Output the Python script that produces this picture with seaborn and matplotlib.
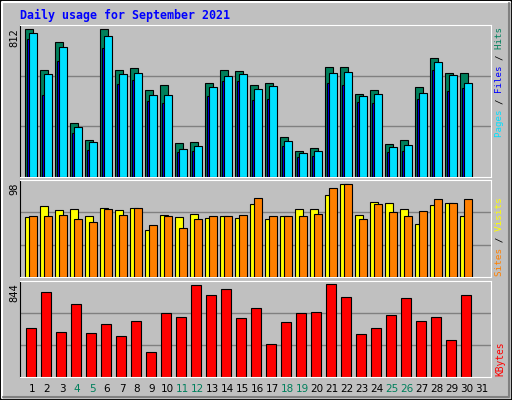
import numpy as np
import matplotlib; matplotlib.use("Agg")
import matplotlib.pyplot as plt
import matplotlib.patches as mpatches
import seaborn as sns

sns.set_style("white")
plt.rcParams["font.family"] = ["DejaVu Sans Mono", "DejaVu Sans"]

days = list(range(1, 32))
weekend = [4, 5, 11, 12, 18, 19, 25, 26]

hits = [812, 585, 740, 297, 203, 812, 585, 596, 476, 507, 186, 192, 518, 585, 579,
        507, 518, 220, 142, 159, 601, 601, 458, 476, 181, 203, 496, 651, 568, 568]
files = [790, 563, 712, 275, 192, 773, 563, 568, 452, 452, 153, 170, 496, 552, 563,
         485, 502, 197, 131, 142, 568, 574, 446, 458, 164, 175, 463, 629, 557, 518]
pages = [756, 452, 635, 242, 148, 707, 513, 530, 419, 408, 137, 142, 446, 524, 524,
         424, 430, 170, 109, 114, 518, 507, 413, 408, 137, 142, 430, 585, 474, 491]
sites = [63, 75, 71, 72, 64, 73, 71, 73, 50, 66, 63, 67, 62, 64, 62,
         77, 61, 65, 72, 72, 87, 98, 66, 79, 78, 72, 56, 76, 78, 65]
visits = [64, 64, 66, 61, 58, 72, 66, 73, 55, 64, 52, 61, 64, 65, 66,
          84, 64, 65, 64, 67, 94, 98, 61, 77, 69, 65, 70, 83, 78, 82]
kbytes = [445, 770, 408, 668, 399, 482, 371, 510, 232, 584, 547, 834, 742, 797, 538,
          630, 297, 501, 584, 593, 844, 732, 389, 445, 565, 723, 510, 547, 334, 751]

BG = "#C0C0C0"
C_HITS, C_FILES, C_PAGES = "#00805C", "#00E0FF", "#0000FF"
C_SITES, C_VISITS, C_KB = "#FFFF00", "#FF8000", "#FF0000"
GREEN = "#00805C"

W, H = 512, 400
fig = plt.figure(figsize=(W / 100, H / 100), dpi=100, facecolor=BG)

# outer frame with bevel
fig.patches.append(mpatches.Rectangle((0, 0), 1, 1, transform=fig.transFigure,
                   fill=False, edgecolor="black", linewidth=2))
fig.add_artist(plt.Line2D([2 / W, 2 / W, 1 - 2 / W], [2 / H, 1 - 2 / H, 1 - 2 / H],
               color="white", linewidth=1.5, transform=fig.transFigure))
fig.add_artist(plt.Line2D([3 / W, 1 - 3 / W, 1 - 3 / W], [3 / H, 3 / H, 1 - 3 / H],
               color="#808080", linewidth=1.5, transform=fig.transFigure))


def make_ax(top_px, bot_px, ymax):
    ax = fig.add_axes([20 / W, 1 - bot_px / H, 471 / W, (bot_px - top_px) / H])
    ax.set_facecolor(BG)
    ax.set_xlim(0, 31.4)
    ax.set_ylim(0, ymax)
    for g in (ymax / 3, 2 * ymax / 3):
        ax.axhline(g, color="#808080", linewidth=1, zorder=0)
    ax.set_xticks([]); ax.set_yticks([])
    for s in ("top", "right", "bottom"):
        ax.spines[s].set_color("white")
    ax.spines["left"].set_color("black")
    return ax


x0 = np.array(days[:30]) - 1
kw = dict(align="edge", edgecolor="black", linewidth=0.8)

ax1 = make_ax(25, 177, 834)
ax1.bar(x0 + 0.35, hits, 0.49, color=C_HITS, zorder=2, **kw)
ax1.bar(x0 + 0.48, pages, 0.13, color=C_PAGES, zorder=3, **kw)
ax1.bar(x0 + 0.62, files, 0.49, color=C_FILES, zorder=4, **kw)

ax2 = make_ax(180, 277, 102.6)
ax2.bar(x0 + 0.35, sites, 0.49, color=C_SITES, zorder=2, **kw)
ax2.bar(x0 + 0.62, visits, 0.49, color=C_VISITS, zorder=3, **kw)

ax3 = make_ax(281, 377, 874)
ax3.bar(x0 + 0.41, kbytes, 0.68, color=C_KB, zorder=2, **kw)

# title
fig.text(20 / W, 1 - 15 / H, "Daily usage for September 2021", color="#0000FF",
         fontsize=8.4, fontweight="bold", va="center", ha="left")

# left max labels
for txt, ytop in (("812", 28), ("98", 182), ("844", 283)):
    fig.text(14 / W, 1 - ytop / H, txt, rotation=90, fontsize=7.5,
             va="top", ha="center", color="black")


# right legends (rotated, multicolour), drawn as one monospace line per piece
def legend(pieces, ybot, step):
    full = "".join(t for t, _ in pieces)
    fs = step / 0.6 * 0.72
    pos = 0
    for txt, col in pieces:
        shown = " " * pos + txt + " " * (len(full) - pos - len(txt))
        fig.text(500 / W, 1 - ybot / H, shown, rotation=90, fontsize=fs,
                 color=col, va="bottom", ha="center")
        pos += len(txt)


legend([("Pages", C_FILES), (" / ", "black"), ("Files", C_PAGES),
        (" / ", "black"), ("Hits", C_HITS)], 137, 5.45)
legend([("Sites", C_VISITS), (" / ", "black"), ("Visits", C_SITES)], 276, 5.6)
legend([("KBytes", C_KB)], 376, 5.8)

# day labels
for d in days:
    fig.text((20 + (d - 0.2) * 15) / W, 1 - 389 / H, str(d), fontsize=7.5,
             ha="center", va="center", color=GREEN if d in weekend else "black",
             family="DejaVu Sans")

fig.savefig("out.png", dpi=100, facecolor=BG)
